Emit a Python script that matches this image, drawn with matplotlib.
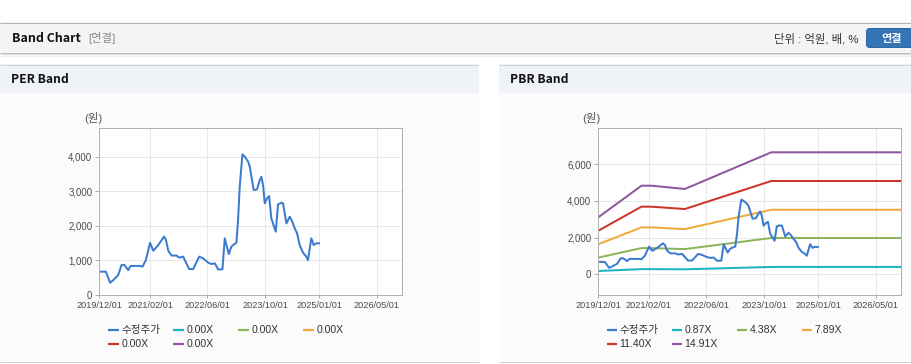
import matplotlib
matplotlib.use("Agg")
import matplotlib.pyplot as plt
import matplotlib.dates as mdates
from matplotlib.patches import Rectangle, FancyBboxPatch
from matplotlib.lines import Line2D
import pandas as pd

KR = ["Noto Sans CJK KR", "DejaVu Sans"]
MIX = ["Liberation Sans", "Noto Sans CJK KR"]  # latin/digits first, korean falls through
W, H = 912, 364
PT = 0.72  # points per pixel at dpi 100

# adjusted close price (수정주가)
price_dates = ["2019-12-01", "2020-01-25", "2020-03-01", "2020-03-28", "2020-05-09",
               "2020-06-06", "2020-06-29", "2020-08-01", "2020-08-21", "2020-11-08",
               "2020-11-30", "2020-12-28", "2021-02-01", "2021-03-01", "2021-04-12",
               "2021-05-30", "2021-06-16", "2021-07-05", "2021-08-02", "2021-09-13",
               "2021-10-05", "2021-11-08", "2021-12-28", "2022-01-31", "2022-03-23",
               "2022-04-25", "2022-06-07", "2022-07-05", "2022-08-02", "2022-08-30",
               "2022-10-05", "2022-10-25", "2022-11-08", "2022-11-28", "2022-12-20",
               "2023-01-03", "2023-01-31", "2023-02-14", "2023-02-28", "2023-03-23",
               "2023-04-12", "2023-05-10", "2023-05-24", "2023-06-26", "2023-07-24",
               "2023-08-16", "2023-08-30", "2023-09-13", "2023-09-27", "2023-10-17",
               "2023-11-03", "2023-11-22", "2023-12-15", "2023-12-29", "2024-01-17",
               "2024-02-15", "2024-02-29", "2024-03-28", "2024-04-25", "2024-05-17",
               "2024-06-06", "2024-06-26", "2024-07-18", "2024-08-15", "2024-09-12",
               "2024-09-26", "2024-10-24", "2024-11-13", "2024-12-06", "2024-12-28"]
price_vals = [675, 675, 355, 430, 580,
              870, 870, 720, 840, 840,
              820, 1010, 1510, 1280, 1445,
              1690, 1590, 1280, 1140, 1140,
              1080, 1110, 750, 750, 1110,
              1060, 935, 895, 915, 740,
              740, 1640, 1445, 1185, 1400,
              1445, 1510, 2170, 3130, 4070,
              4000, 3855, 3710, 3035, 3055,
              3325, 3420, 3180, 2650, 2795,
              2860, 2215, 1975, 1830, 2620,
              2670, 2650, 2070, 2265, 2120,
              1930, 1785, 1445, 1225, 1110,
              1010, 1640, 1445, 1495, 1495]

# PBR band lines (원), breakpoints
band_dates = ["2019-12-01", "2020-11-30", "2021-03-01", "2021-12-01", "2023-12-01", "2026-12-01"]
band_087 = [180, 282, 281, 272, 400, 400]
band_438 = [910, 1430, 1428, 1375, 1980, 1980]
band_789 = [1640, 2560, 2555, 2465, 3520, 3520]
band_1140 = [2378, 3690, 3685, 3560, 5090, 5090]
band_1491 = [3110, 4835, 4830, 4655, 6655, 6655]

per_labels = ["수정주가", "0.00X", "0.00X", "0.00X", "0.00X", "0.00X"]
pbr_labels = ["수정주가", "0.87X", "4.38X", "7.89X", "11.40X", "14.91X"]
colors = ["#3a7bd0", "#1cb3c6", "#8cb65a", "#f0aa3c", "#cc3329", "#8f559f"]

x_ticks = ["2019-12-01", "2021-02-01", "2022-06-01", "2023-10-01", "2025-01-01", "2026-05-01"]
x_range = ("2019-12-01", "2026-12-01")

fig = plt.figure(figsize=(W / 100, H / 100), dpi=100)

# page background drawn in pixel coordinates
bg = fig.add_axes([0, 0, 1, 1], zorder=0)
bg.set_xlim(0, W)
bg.set_ylim(H, 0)
bg.axis("off")


def rect(x0, y0, x1, y1, color, **kw):
    bg.add_patch(Rectangle((x0, y0), x1 - x0, y1 - y0, facecolor=color, edgecolor="none", **kw))


def hline(y, x0, x1, color, lw=1):
    bg.plot([x0, x1], [y, y], color=color, lw=lw * PT, solid_capstyle="butt")


# top header bar
rect(0, 22, W, 53, "#f4f4f4")
hline(22.5, 0, W, "#b4b4b4")
hline(53, 0, W, "#bcbcbc")
hline(54.2, 0, W, "#dedede", 1.2)
hline(55.5, 0, W, "#efefef", 1.2)
bg.text(12, 38.5, "Band Chart", fontsize=8.9, fontweight="bold", color="#111111",
        family=KR, va="center", ha="left")
bg.text(88, 38.5, "[연결]", fontsize=8.2, color="#8a8a8a", family=MIX, va="center", ha="left")
bg.text(859, 38.5, "단위 : 억원, 배, %", fontsize=8.2, color="#333333", family=MIX,
        va="center", ha="right")
bg.add_patch(FancyBboxPatch((866.5, 28.5), 50, 19, boxstyle="round,pad=0,rounding_size=3",
                            facecolor="#3574b5", edgecolor="#2c65a3", lw=0.7))
bg.text(892, 38.5, "연결", fontsize=8, fontweight="bold", color="white", family=KR,
        va="center", ha="center")

# two panels
for (px0, px1, title) in [(0, 479, "PER Band"), (499, W, "PBR Band")]:
    rect(px0, 64, px1, 93, "#eff2f7")
    rect(px0, 93, px1, 361, "#fbfbfb")
    hline(64.5, px0, px1, "#d2d2d2")
    hline(361.5, px0, px1, "#cfcfcf")
    bg.text(px0 + 11, 79.5, title, fontsize=8.7, fontweight="bold", color="#111111",
            family=KR, va="center", ha="left")


def px_axes(x0, y0, x1, y1):
    return fig.add_axes([x0 / W, 1 - y1 / H, (x1 - x0) / W, (y1 - y0) / H], zorder=2)


def style_axes(ax, ylim, yticks):
    ax.set_facecolor("white")
    ax.set_xlim(pd.to_datetime(x_range[0]), pd.to_datetime(x_range[1]))
    ax.set_ylim(*ylim)
    ax.set_yticks(yticks)
    ax.set_yticklabels([f"{v:,}" for v in yticks])
    ax.set_xticks(pd.to_datetime(x_ticks))
    ax.xaxis.set_major_formatter(mdates.DateFormatter("%Y/%m/%d"))
    for s in ax.spines.values():
        s.set_color("#b0b0b0")
        s.set_linewidth(1 * PT)
    ax.grid(True, color="#e8e8e8", linewidth=1 * PT)
    ax.set_axisbelow(True)
    ax.tick_params(axis="y", length=4 * PT, width=1 * PT, color="#b0b0b0", pad=3 * PT,
                   labelsize=6.9, labelcolor="#4a4a4a")
    ax.tick_params(axis="x", length=3 * PT, width=1 * PT, color="#b0b0b0", pad=3 * PT,
                   labelsize=6.6, labelcolor="#4a4a4a")
    for lab in ax.get_xticklabels() + ax.get_yticklabels():
        lab.set_family("Liberation Sans")


def legend(x0, labels):
    rows = [330, 344]
    for i, (lab, col) in enumerate(zip(labels, colors)):
        r, c = divmod(i, 4)
        mx = x0 + c * 65
        y = rows[r]
        bg.add_line(Line2D([mx, mx + 10.5], [y, y], color=col, lw=2.2 * PT,
                           solid_capstyle="butt"))
        bg.text(mx + 13, y, lab, fontsize=7.6, color="#333333", family=MIX,
                va="center", ha="left")


pdates = pd.to_datetime(price_dates)
bdates = pd.to_datetime(band_dates)

# PER band chart (all multiples are 0.00X, only price is shown)
ax1 = px_axes(99.3, 128, 402.3, 295)
style_axes(ax1, (0, 4830), [0, 1000, 2000, 3000, 4000])
ax1.plot(pdates, price_vals, color=colors[0], lw=2 * PT)
bg.text(84, 118, "(원)", fontsize=8.2, color="#555555", family=MIX, va="center", ha="left")
legend(108.3, per_labels)

# PBR band chart
ax2 = px_axes(598.3, 128.3, 901, 295)
style_axes(ax2, (-1130, 7965), [0, 2000, 4000, 6000])
for vals, col in zip([band_087, band_438, band_789, band_1140, band_1491], colors[1:]):
    ax2.plot(bdates, vals, color=col, lw=2 * PT)
ax2.plot(pdates, price_vals, color=colors[0], lw=2 * PT)
bg.text(582, 118, "(원)", fontsize=8.2, color="#555555", family=MIX, va="center", ha="left")
legend(606.7, pbr_labels)

fig.savefig("out.png", dpi=100)
